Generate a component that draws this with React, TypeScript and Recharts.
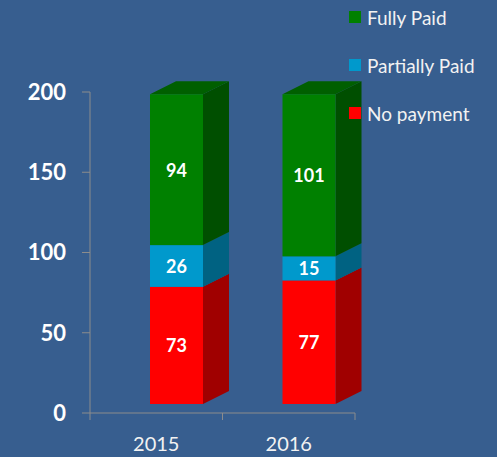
import React from 'react';
import { BarChart, Bar, XAxis, YAxis, LabelList } from 'recharts';

const years = ['2015', '2016'];
const noPayment = [73, 77];
const partiallyPaid = [26, 15];
const fullyPaid = [94, 101];
const yTicks = [0, 50, 100, 150, 200];

const data = years.map((year, i) => ({
  year,
  noPayment: noPayment[i],
  partial: partiallyPaid[i],
  full: fullyPaid[i],
}));

// bottom-to-top stacking order
const series = [
  { key: 'noPayment', name: 'No payment', front: '#FF0000', side: '#A00000', top: '#C80000' },
  { key: 'partial', name: 'Partially Paid', front: '#0099CC', side: '#006282', top: '#007AA3' },
  { key: 'full', name: 'Fully Paid', front: '#008000', side: '#004F00', top: '#005F00' },
];

// 3d look: front face sits a bit right/up of the category slot, depth goes back-right
const SHIFT_X = 20;
const SHIFT_Y = -9;
const DX = 26;
const DY = 13;
const BG = '#375E8F';
const AXIS = '#8C8C8C';

const Box3D = (props: any) => {
  const { x, y, width, height, front, side, top, isTop } = props;
  if (height == null || height <= 0) return null;
  const fx = x + SHIFT_X;
  const fy = y + SHIFT_Y;
  const r = fx + width;
  const sidePts = `${r},${fy} ${r + DX},${fy - DY} ${r + DX},${fy + height - DY} ${r},${fy + height}`;
  const topPts = `${fx},${fy} ${fx + DX},${fy - DY} ${r + DX},${fy - DY} ${r},${fy}`;
  return (
    <g>
      <polygon points={sidePts} fill={side} />
      {isTop && <polygon points={topPts} fill={top} />}
      <rect x={fx} y={fy} width={width} height={height} fill={front} />
    </g>
  );
};

const renderLabel = (p: any) => {
  const { x, y, width, height, value } = p;
  return (
    <text
      x={x + SHIFT_X + width / 2}
      y={y + SHIFT_Y + height / 2}
      textAnchor="middle"
      dominantBaseline="central"
      fill="#FFFFFF"
      fontSize={18}
      fontWeight={700}
      fontFamily="Lato"
    >
      {value}
    </text>
  );
};

// category tick: label in the middle, tick marks on the slot edges (excel style)
const YearTick = (props: any) => {
  const { x, y, payload } = props;
  const half = payload.offset || 0;
  return (
    <g>
      <line x1={x - half} y1={y} x2={x - half} y2={y + 7} stroke={AXIS} />
      <line x1={x + half} y1={y} x2={x + half} y2={y + 7} stroke={AXIS} />
      <text x={x} y={y + 38} textAnchor="middle" fill="#F2F2F2" fontSize={20} fontFamily="Lato">
        {payload.value}
      </text>
    </g>
  );
};

export default function App() {
  const legendItems = [...series].reverse();
  return (
    <div style={{ position: 'fixed', left: 0, top: 0, width: 497, height: 457, background: BG, fontFamily: 'Lato' }}>
      <BarChart
        width={497}
        height={457}
        data={data}
        margin={{ top: 92, right: 142, left: 0, bottom: 12 }}
        barSize={53}
      >
        <XAxis
          dataKey="year"
          stroke={AXIS}
          tickLine={false}
          tickSize={0}
          tickMargin={0}
          height={32}
          tick={<YearTick />}
        />
        <YAxis
          domain={[0, 200]}
          ticks={yTicks}
          width={90}
          stroke={AXIS}
          tickSize={8}
          tickMargin={16}
          tick={{ fill: '#FFFFFF', fontSize: 22, fontWeight: 700, fontFamily: 'Lato' }}
        />
        {series.map((s, i) => (
          <Bar
            key={s.key}
            dataKey={s.key}
            name={s.name}
            stackId="a"
            fill={s.front}
            isAnimationActive={false}
            shape={(p: any) => (
              <Box3D {...p} front={s.front} side={s.side} top={s.top} isTop={i === series.length - 1} />
            )}
          >
            <LabelList dataKey={s.key} content={renderLabel} />
          </Bar>
        ))}
      </BarChart>

      {/* legend, stacked top to bottom like the original */}
      {legendItems.map((s, i) => (
        <div
          key={s.key}
          style={{
            position: 'absolute',
            left: 349,
            top: 17 + i * 48 - 12,
            height: 24,
            display: 'flex',
            alignItems: 'center',
            color: '#F2F2F2',
            fontSize: 19,
          }}
        >
          <span style={{ display: 'inline-block', width: 12, height: 12, background: s.front, marginRight: 6 }} />
          <span>{s.name}</span>
        </div>
      ))}
    </div>
  );
}
